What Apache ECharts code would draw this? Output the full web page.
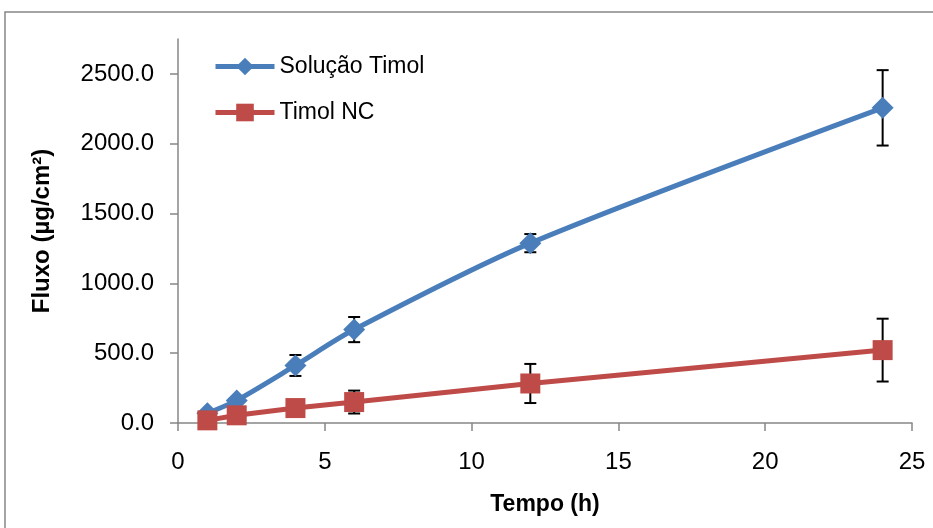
<!DOCTYPE html>
<html>
<head>
<meta charset="utf-8">
<script src="https://cdn.jsdelivr.net/npm/echarts@6/dist/echarts.min.js"></script>
<style>
  html, body { margin: 0; padding: 0; background: #fff; }
  #chart { width: 933px; height: 528px; }
</style>
</head>
<body>
<div id="chart"></div>
<script>
// dados
const tempo = [1, 2, 4, 6, 12, 24];
const solucaoTimol = [70, 162, 412, 669, 1288, 2257];
const solucaoErro = [10, 15, 75, 90, 65, 270];
const timolNC = [19, 55, 107, 150, 283, 522];
const timolNCErro = [8, 12, 20, 82, 140, 225];
const yTicks = [0, 500, 1000, 1500, 2000, 2500];

const font = 'Liberation Sans';

function pairs(xs, ys) {
  return xs.map((x, i) => [x, ys[i]]);
}

function errData(xs, ys, es) {
  return xs.map((x, i) => [x, ys[i] - es[i], ys[i] + es[i]]);
}

function renderErr(params, api) {
  const x = api.value(0);
  const lo = api.coord([x, api.value(1)]);
  const hi = api.coord([x, api.value(2)]);
  const half = 6;
  const style = { stroke: '#000', lineWidth: 2 };
  return {
    type: 'group',
    children: [
      { type: 'line', shape: { x1: lo[0], y1: lo[1], x2: hi[0], y2: hi[1] }, style },
      { type: 'line', shape: { x1: lo[0] - half, y1: lo[1], x2: lo[0] + half, y2: lo[1] }, style },
      { type: 'line', shape: { x1: hi[0] - half, y1: hi[1], x2: hi[0] + half, y2: hi[1] }, style }
    ]
  };
}

const chart = echarts.init(document.getElementById('chart'));
chart.setOption({
  animation: false,
  textStyle: { fontFamily: font },
  graphic: [{
    type: 'rect',
    shape: { x: 5, y: 12, width: 960, height: 560 },
    style: { fill: 'none', stroke: '#868686', lineWidth: 1.5 },
    silent: true
  }],
  grid: { left: 178, right: 21, top: 39, bottom: 105 },
  legend: {
    orient: 'vertical',
    left: 208,
    top: 50,
    itemWidth: 59,
    itemHeight: 22,
    itemGap: 23,
    lineStyle: { width: 5 },
    textStyle: { fontSize: 23, color: '#000', fontFamily: font },
    data: ['Solução Timol', 'Timol NC']
  },
  xAxis: {
    type: 'value',
    min: 0,
    max: 25,
    interval: 5,
    name: 'Tempo (h)',
    nameLocation: 'middle',
    nameGap: 70,
    nameTextStyle: { fontSize: 23, fontWeight: 'bold', color: '#000', fontFamily: font },
    axisLine: { lineStyle: { color: '#868686', width: 1.5 } },
    axisTick: { length: 8, lineStyle: { color: '#868686', width: 1.5 } },
    axisLabel: { fontSize: 24, color: '#000', margin: 27, fontFamily: font },
    splitLine: { show: false }
  },
  yAxis: {
    type: 'value',
    min: 0,
    max: 2750,
    interval: 500,
    name: 'Fluxo (µg/cm²)',
    nameLocation: 'middle',
    nameGap: 124,
    nameRotate: 90,
    nameTextStyle: { fontSize: 24, fontWeight: 'bold', color: '#000', fontFamily: font },
    axisLine: { show: true, lineStyle: { color: '#868686', width: 1.5 } },
    axisTick: { show: true, length: 8, customValues: yTicks, lineStyle: { color: '#868686', width: 1.5 } },
    axisLabel: {
      fontSize: 24, color: '#000', margin: 24, fontFamily: font,
      customValues: yTicks,
      formatter: v => v.toFixed(1)
    },
    splitLine: { show: false }
  },
  series: [
    {
      type: 'custom',
      name: 'erroSolucao',
      renderItem: renderErr,
      data: errData(tempo, solucaoTimol, solucaoErro),
      z: 1,
      silent: true
    },
    {
      type: 'custom',
      name: 'erroNC',
      renderItem: renderErr,
      data: errData(tempo, timolNC, timolNCErro),
      z: 1,
      silent: true
    },
    {
      name: 'Solução Timol',
      type: 'line',
      smooth: 0.3,
      data: pairs(tempo, solucaoTimol),
      symbol: 'diamond',
      symbolSize: 22,
      itemStyle: { color: '#4A7EBB' },
      lineStyle: { color: '#4A7EBB', width: 5 },
      z: 3
    },
    {
      name: 'Timol NC',
      type: 'line',
      data: pairs(tempo, timolNC),
      symbol: 'rect',
      symbolSize: 20,
      itemStyle: { color: '#BE4B48' },
      lineStyle: { color: '#BE4B48', width: 5 },
      z: 4
    }
  ]
});
</script>
</body>
</html>
